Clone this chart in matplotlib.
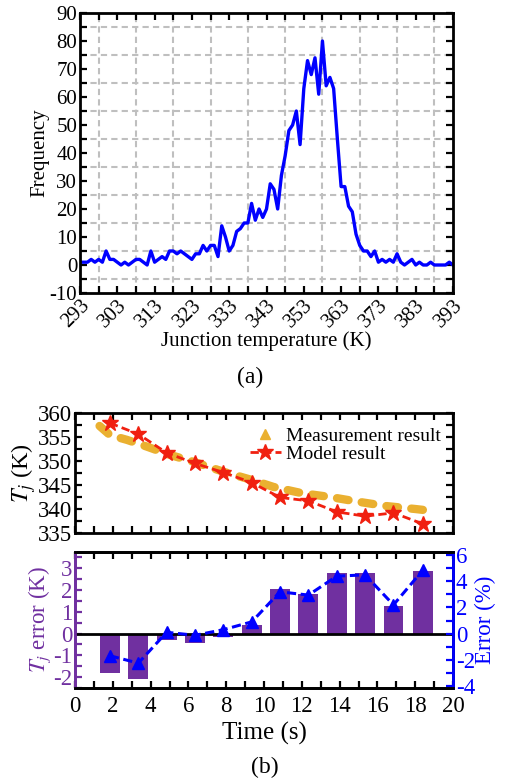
import numpy as np
import matplotlib
matplotlib.use("Agg")
import matplotlib.pyplot as plt
from matplotlib.ticker import FixedLocator, MultipleLocator
from matplotlib.lines import Line2D

plt.rcParams['font.family'] = ['Liberation Serif', 'DejaVu Serif']
plt.rcParams['mathtext.fontset'] = 'stix'
plt.rcParams['axes.unicode_minus'] = False

# ---------------- data (a) ----------------
temp_k = list(range(293, 394))
freq = [1, 1, 1, 2, 1, 2, 1, 5, 2, 2, 1, 0, 1, 0, 1, 2, 2, 1, 0, 5,
        1, 2, 3, 2, 5, 5, 4, 5, 4, 3, 2, 4, 4, 7, 5, 7, 7, 3, 14, 10,
        5, 7, 12, 13, 15, 15, 22, 16, 20, 17, 20, 29, 27, 20, 32, 39, 48, 50, 55, 43,
        63, 73, 68, 74, 61, 80, 64, 67, 63, 45, 28, 28, 21, 19, 11, 7, 5, 5, 3, 5,
        1, 2, 1, 2, 1, 4, 1, 0, 1, 2, 0, 1, 0, 0, 1, 0, 0, 0, 0, 1, 0]
xticks_a = [293, 303, 313, 323, 333, 343, 353, 363, 373, 383, 393]

# ---------------- data (b) ----------------
meas_t = [1.3, 1.85, 2.75, 3.8, 5.0, 6.3, 7.9, 9.4, 10.5, 12.0, 13.5, 15.0, 16.5, 18.0, 18.9]
meas_T = [357.3, 355.4, 354.4, 353.0, 351.3, 349.8, 347.7, 346.0, 344.6, 343.3, 342.5, 341.5, 340.6, 340.0, 339.6]
model_t = [1.85, 3.35, 4.85, 6.35, 7.85, 9.35, 10.85, 12.35, 13.85, 15.35, 16.85, 18.4]
model_T = [357.9, 355.6, 351.7, 349.5, 347.6, 345.5, 342.4, 341.7, 339.4, 338.5, 339.2, 336.9]
err_k = [-1.8, -2.1, -0.3, -0.43, -0.15, 0.38, 2.03, 1.81, 2.77, 2.77, 1.26, 2.89]
err_pct = [-1.7, -2.26, 0.1, -0.13, 0.3, 0.9, 3.2, 2.95, 4.4, 4.5, 2.2, 4.85]

W, H = 507, 783
fig = plt.figure(figsize=(W / 100, H / 100), dpi=100)

def box(l, t, r, b):
    return [l / W, 1 - b / H, (r - l) / W, (b - t) / H]

FS = 15
FSB = 16.5
TICK = dict(direction='in', length=5, width=1.6, top=True, right=True)

# ---------------- panel (a) ----------------
ax = fig.add_axes(box(80, 13, 453, 293))
ax.plot(temp_k, freq, color='#0000FF', lw=2.4)
ax.set_xlim(293, 393)
ax.set_ylim(-10, 90)
ax.xaxis.set_major_locator(FixedLocator(xticks_a))
ax.xaxis.set_minor_locator(FixedLocator([t + 5 for t in xticks_a[:-1]]))
ax.yaxis.set_major_locator(MultipleLocator(10))
ax.yaxis.set_minor_locator(FixedLocator(np.arange(-5, 90, 10)))
ax.grid(which='minor', linestyle=(0, (3, 2)), color='#bfbfbf', lw=1.5)
ax.tick_params(which='both', labelsize=FS, pad=2, **TICK)
for lab in ax.get_xticklabels():
    lab.set_rotation(45)
    lab.set_ha('right')
    lab.set_rotation_mode('anchor')
for s in ax.spines.values():
    s.set_linewidth(2)
ax.set_xlabel('Junction temperature (K)', fontsize=FS, labelpad=0)
ax.set_ylabel('Frequency', fontsize=FS, labelpad=0)
fig.text(250 / W, 1 - 377 / H, '(a)', fontsize=17, ha='center', va='center')

# ---------------- panel (b) top ----------------
ax1 = fig.add_axes(box(75, 413, 453, 533))
ax1.plot(meas_t, meas_T, color='#EAB030', lw=6, linestyle=(0, (1.4, 1.6)),
         solid_capstyle='round', dash_capstyle='round')
ax1.plot(model_t, model_T, color='#F02010', lw=2, linestyle=(0, (3, 1.5)),
         marker='*', markersize=12)
ax1.set_xlim(0, 20)
ax1.set_ylim(335, 360)
ax1.xaxis.set_major_locator(MultipleLocator(2))
ax1.xaxis.set_minor_locator(MultipleLocator(1))
ax1.yaxis.set_major_locator(MultipleLocator(5))
ax1.yaxis.set_minor_locator(MultipleLocator(2.5))
ax1.tick_params(which='both', labelsize=FSB, labelbottom=False, pad=2, **TICK)
for s in ax1.spines.values():
    s.set_linewidth(2)
ax1.set_ylabel('$T_j$ (K)', fontsize=FSB + 1, labelpad=0)
handles = [Line2D([], [], color='#EAB030', marker='^', linestyle='none', markersize=7),
           Line2D([], [], color='#F02010', marker='*', linestyle=(0, (3, 1.5)), lw=2, markersize=12)]
ax1.legend(handles, ['Measurement result', 'Model result'], loc='upper right',
           frameon=False, fontsize=14, handlelength=1.6, handletextpad=0.3,
           labelspacing=0.05, borderaxespad=0.2, bbox_to_anchor=(1.0, 0.98))

# ---------------- panel (b) bottom ----------------
PURPLE = '#7030A0'
BLUE = '#0000FF'
ax2 = fig.add_axes(box(75, 552, 453, 688))
ax2.bar(model_t, err_k, width=1.05, color=PURPLE, zorder=2)
ax2.axhline(0, color='black', lw=2, zorder=3)
ax2.set_xlim(0, 20)
ax2.set_ylim(-2.5, 3.75)
ax2.xaxis.set_major_locator(MultipleLocator(2))
ax2.xaxis.set_minor_locator(MultipleLocator(1))
ax2.yaxis.set_major_locator(MultipleLocator(1))
ax2.yaxis.set_minor_locator(MultipleLocator(0.5))
ax2.tick_params(which='both', labelsize=FSB, direction='in', length=5, width=1.6,
                top=True, right=False, pad=2)
ax2.tick_params(axis='x', which='both', pad=6)
ax2.tick_params(axis='y', which='both', colors=PURPLE)
for s in ax2.spines.values():
    s.set_linewidth(2)
ax2.spines['left'].set_color(PURPLE)
ax2.set_ylabel('$T_j$ error (K)', fontsize=FSB, color=PURPLE, labelpad=0)
ax2.set_xlabel('Time (s)', fontsize=18, labelpad=3)

ax3 = ax2.twinx()
ax3.plot(model_t, err_pct, color=BLUE, lw=2.2, linestyle=(0, (3, 1.5)),
         marker='^', markersize=8, zorder=4)
ax3.set_ylim(-2.5 * 5 / 3, 3.75 * 5 / 3)
ax3.yaxis.set_major_locator(MultipleLocator(2))
ax3.yaxis.set_minor_locator(MultipleLocator(1))
ax3.tick_params(which='both', labelsize=FSB, direction='in', length=5, width=1.6,
                colors=BLUE, pad=2)
for s in ax3.spines.values():
    s.set_linewidth(2)
ax3.spines['right'].set_color(BLUE)
ax3.spines['left'].set_color(PURPLE)
ax3.set_ylabel('Error (%)', fontsize=FSB, color=BLUE, labelpad=0)

fig.text(265 / W, 1 - 767 / H, '(b)', fontsize=17, ha='center', va='center')

fig.savefig('out.png', dpi=100)
